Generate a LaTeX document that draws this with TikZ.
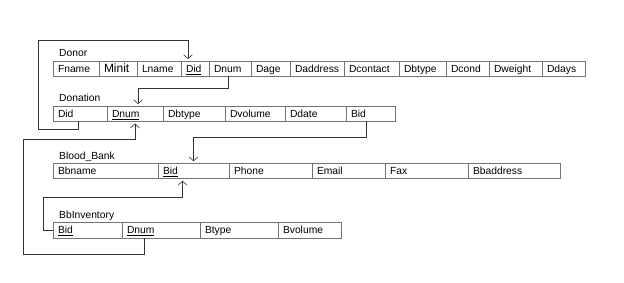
\documentclass[tikz,border=0pt]{standalone}
\usepackage{fontspec}
\setmainfont{Liberation Sans}
\usetikzlibrary{positioning}
\usetikzlibrary{arrows.meta}

\begin{document}
\begin{tikzpicture}[x=1pt, y=-1pt,
	cell/.style={draw=black!55, line width=0.6pt, anchor=west, minimum height=15.5pt,
		inner xsep=5pt, inner ysep=0pt, outer sep=0pt, /utils/exec={\pgfmathsetlengthmacro\cellw{#1-10}},
		text width=\cellw, align=left, text height=7.5pt, text depth=0.5pt,
		font=\fontsize{10.3}{12}\selectfont},
	tname/.style={anchor=base west, inner sep=0pt, font=\fontsize{10.3}{12}\selectfont},
	link/.style={draw=black!80, line width=0.6pt, -{Straight Barb[length=4pt,width=9pt]}, shorten >=2pt}]
	\useasboundingbox (0,0) rectangle (624,283);

	\node[cell=46] (drFname) at (53,68.75) {Fname};
	\node[cell=38, right=0pt of drFname] (drMinit) {\fontsize{12}{12}\selectfont Minit};
	\node[cell=44, right=0pt of drMinit] (drLname) {Lname};
	\node[cell=28, right=0pt of drLname] (drDid) {\underline{Did}};
	\node[cell=42, right=0pt of drDid] (drDnum) {Dnum};
	\node[cell=39, right=0pt of drDnum] (drDage) {Dage};
	\node[cell=54, right=0pt of drDage] (drDaddress) {Daddress};
	\node[cell=55, right=0pt of drDaddress] (drDcontact) {Dcontact};
	\node[cell=47, right=0pt of drDcontact] (drDbtype) {Dbtype};
	\node[cell=43, right=0pt of drDbtype] (drDcond) {Dcond};
	\node[cell=53, right=0pt of drDcond] (drDweight) {Dweight};
	\node[cell=43, right=0pt of drDweight] (drDdays) {Ddays};
	\node[tname] (donor) at ([xshift=6pt,yshift=4pt]drFname.north west) {Donor};

	\node[cell=54] (dnDid) at (53,113.75) {Did};
	\node[cell=56, right=0pt of dnDid] (dnDnum) {\underline{Dnum}};
	\node[cell=62, right=0pt of dnDnum] (dnDbtype) {Dbtype};
	\node[cell=60, right=0pt of dnDbtype] (dnDvolume) {Dvolume};
	\node[cell=61, right=0pt of dnDvolume] (dnDdate) {Ddate};
	\node[cell=49, right=0pt of dnDdate] (dnBid) {Bid};
	\node[tname] (donation) at ([xshift=6pt,yshift=4pt]dnDid.north west) {Donation};

	\node[cell=105] (bbBbname) at (53,171) {Bbname};
	\node[cell=71, right=0pt of bbBbname] (bbBid) {\underline{Bid}};
	\node[cell=83, right=0pt of bbBid] (bbPhone) {Phone};
	\node[cell=73, right=0pt of bbPhone] (bbEmail) {Email};
	\node[cell=83, right=0pt of bbEmail] (bbFax) {Fax};
	\node[cell=92, right=0pt of bbFax] (bbBbaddress) {Bbaddress};
	\node[tname] (bloodbank) at ([xshift=6pt,yshift=4pt]bbBbname.north west) {Blood\_Bank};

	\node[cell=69] (biBid) at (53,230.5) {\underline{Bid}};
	\node[cell=78, right=0pt of biBid] (biDnum) {\underline{Dnum}};
	\node[cell=78, right=0pt of biDnum] (biBtype) {Btype};
	\node[cell=63, right=0pt of biBtype] (biBvolume) {Bvolume};
	\node[tname] (bbinventory) at ([xshift=6pt,yshift=4pt]biBid.north west) {BbInventory};

	\coordinate (c1) at (38,40);
	\coordinate (c4) at (23,139);
	\coordinate (c5) at (43,197);

	\draw[link] ([xshift=-2pt]dnDid.south) -- ++(0,8) -| (c1) -| ([xshift=-7pt]drDid.north);
	\draw[link] ([xshift=-2pt]drDnum.south) -- ++(0,12) -| ([xshift=3pt]dnDnum.north);
	\draw[link] ([xshift=-4pt]dnBid.south) -- ++(0,16) -| (bbBid.north);
	\draw[link] ([xshift=-17pt]biDnum.south) -- ++(0,16) -| (c4) -| (dnDnum.south);
	\draw[link] (biBid.west) -| (c5) -| ([xshift=-11pt]bbBid.south);
\end{tikzpicture}
\end{document}
